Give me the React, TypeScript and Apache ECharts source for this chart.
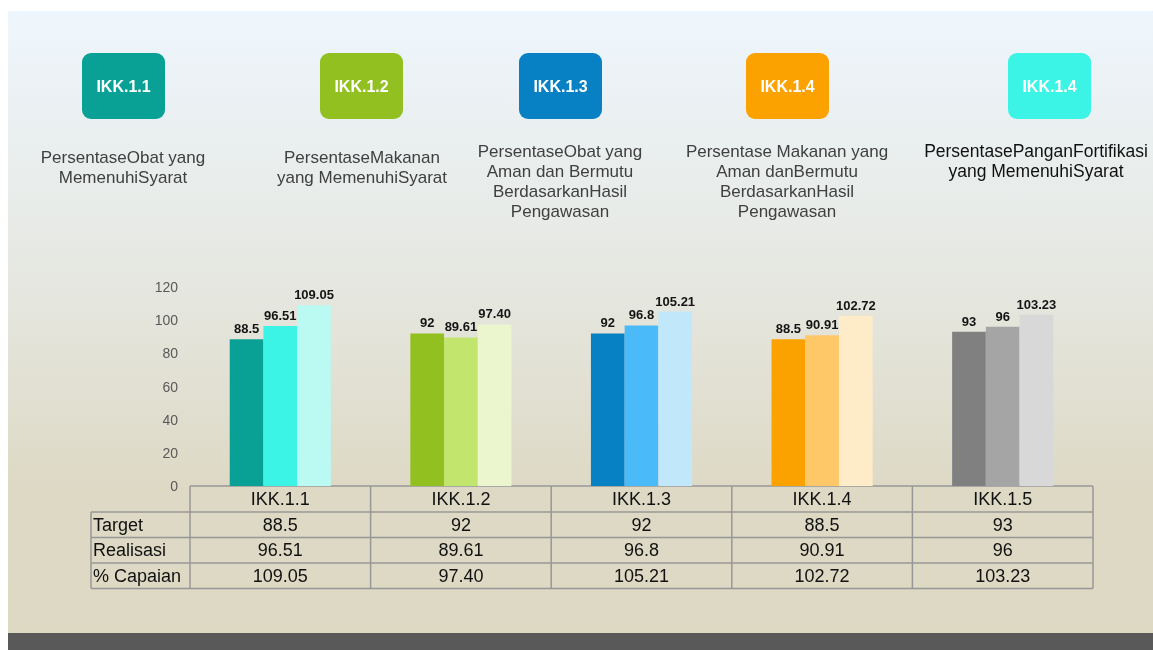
import React, { useEffect, useRef } from "react";
import * as echarts from "echarts";

// ---- data ----
const categories = ["IKK.1.1", "IKK.1.2", "IKK.1.3", "IKK.1.4", "IKK.1.5"];
const target = [88.5, 92, 92, 88.5, 93];
const realisasi = [96.51, 89.61, 96.8, 90.91, 96];
const capaian = [109.05, 97.4, 105.21, 102.72, 103.23];
const rowLabels = ["Target", "Realisasi", "% Capaian"];
const yMin = 0;
const yMax = 120;
const yStep = 20;
const boxLabels = ["IKK.1.1", "IKK.1.2", "IKK.1.3", "IKK.1.4", "IKK.1.4"];
const descriptions = [
  ["PersentaseObat yang", "MemenuhiSyarat"],
  ["PersentaseMakanan", "yang MemenuhiSyarat"],
  ["PersentaseObat yang", "Aman dan Bermutu", "BerdasarkanHasil", "Pengawasan"],
  ["Persentase Makanan yang", "Aman danBermutu", "BerdasarkanHasil", "Pengawasan"],
  ["PersentasePanganFortifikasi", "yang MemenuhiSyarat"],
];

// ---- styles ----
const groupColors = [
  ["#09a196", "#3bf4e6", "#bbf9f3"],
  ["#92c020", "#c2e56d", "#ebf6cf"],
  ["#0780c4", "#4bbaf8", "#c1e7fa"],
  ["#fba200", "#fec767", "#feecc8"],
  ["#808080", "#a5a5a5", "#d8d8d8"],
];
const boxColors = ["#09a196", "#92c020", "#0780c4", "#fba200", "#3bf4e6"];
const boxX = [82, 320, 519, 746, 1008];
const descCenterX = [123, 362, 560, 787, 1036];
const descTopY = [157, 157, 151, 151, 151];
const descColors = ["#404040", "#404040", "#404040", "#404040", "#111111"];
const descSize = [17, 17, 17, 17, 17.5];

const W = 1153;
const H = 650;
const GRID_LEFT = 190;
const GRID_RIGHT_X = 1093;
const GRID_TOP = 287;
const GRID_BOTTOM_Y = 486;
const TABLE_LEFT = 91;
const ROW_Y = [486, 512, 537.5, 563, 588.5];
const BORDER = "#979797";
const FONT = "'Liberation Sans', Arial, sans-serif";

function fmtPlain(v: number) {
  return String(v);
}
function fmtPct(v: number) {
  return v.toFixed(2);
}

export default function App() {
  const ref = useRef<HTMLDivElement>(null);

  useEffect(() => {
    if (!ref.current) return;
    const chart = echarts.init(ref.current, undefined, { renderer: "svg" });
    const band = (GRID_RIGHT_X - GRID_LEFT) / categories.length;

    const graphics: any[] = [];
    // background
    graphics.push({
      type: "rect",
      z: -10,
      shape: { x: 0, y: 0, width: W, height: H },
      style: { fill: "#ffffff" },
    });
    graphics.push({
      type: "rect",
      z: -9,
      shape: { x: 8, y: 11, width: W - 8, height: H - 11 },
      style: {
        fill: {
          type: "linear",
          x: 0,
          y: 0,
          x2: 0,
          y2: 1,
          colorStops: [
            { offset: 0, color: "#eef6fd" },
            { offset: 0.4, color: "#e6e8e2" },
            { offset: 0.75, color: "#ddd9c5" },
            { offset: 1, color: "#ddd9c3" },
          ],
        },
      },
    });
    graphics.push({
      type: "rect",
      z: -8,
      shape: { x: 8, y: 633, width: W - 8, height: H - 633 },
      style: { fill: "#595959" },
    });

    // boxes
    boxLabels.forEach((lab, i) => {
      graphics.push({
        type: "rect",
        shape: { x: boxX[i], y: 53, width: 83, height: 66, r: 9 },
        style: { fill: boxColors[i] },
      });
      graphics.push({
        type: "text",
        x: boxX[i] + 41.5,
        y: 86,
        style: {
          text: lab,
          fill: "#ffffff",
          font: `bold 16px ${FONT}`,
          align: "center",
          verticalAlign: "middle",
        },
      });
    });

    // descriptions
    descriptions.forEach((lines, i) => {
      lines.forEach((ln, j) => {
        graphics.push({
          type: "text",
          x: descCenterX[i],
          y: descTopY[i] + j * 20.3,
          style: {
            text: ln,
            fill: descColors[i],
            font: `${descSize[i]}px ${FONT}`,
            align: "center",
            verticalAlign: "middle",
          },
        });
      });
    });

    // table lines
    const hline = (x1: number, x2: number, y: number) =>
      graphics.push({
        type: "line",
        shape: { x1, y1: y, x2, y2: y },
        style: { stroke: BORDER, lineWidth: 1.5 },
      });
    const vline = (x: number, y1: number, y2: number) =>
      graphics.push({
        type: "line",
        shape: { x1: x, y1, x2: x, y2 },
        style: { stroke: BORDER, lineWidth: 1.5 },
      });
    hline(GRID_LEFT, GRID_RIGHT_X, ROW_Y[0]);
    for (let r = 1; r < ROW_Y.length; r++) hline(TABLE_LEFT, GRID_RIGHT_X, ROW_Y[r]);
    vline(TABLE_LEFT, ROW_Y[1], ROW_Y[4]);
    for (let c = 0; c <= categories.length; c++) vline(GRID_LEFT + c * band, ROW_Y[0], ROW_Y[4]);

    const cellText = (text: string, x: number, y: number, align: string) =>
      graphics.push({
        type: "text",
        x,
        y,
        style: {
          text,
          fill: "#111111",
          font: `18px ${FONT}`,
          align,
          verticalAlign: "middle",
        },
      });

    const rows = [target.map(fmtPlain), realisasi.map(fmtPlain), capaian.map(fmtPct)];
    categories.forEach((c, i) => {
      const cx = GRID_LEFT + (i + 0.5) * band;
      cellText(c, cx, (ROW_Y[0] + ROW_Y[1]) / 2, "center");
      rows.forEach((row, r) => {
        cellText(row[i], cx, (ROW_Y[r + 1] + ROW_Y[r + 2]) / 2, "center");
      });
    });
    rowLabels.forEach((l, r) => {
      cellText(l, TABLE_LEFT + 2, (ROW_Y[r + 1] + ROW_Y[r + 2]) / 2, "left");
    });

    const mkSeries = (name: string, vals: number[], shade: number, fmt: (v: number) => string) => ({
      name,
      type: "bar",
      barGap: "0%",
      barCategoryGap: "44%",
      data: vals.map((v, i) => ({ value: v, itemStyle: { color: groupColors[i][shade] } })),
      label: {
        show: true,
        position: "top",
        distance: 4,
        color: "#141414",
        fontWeight: "bold",
        fontSize: 13,
        fontFamily: "'Liberation Sans Narrow', 'Liberation Sans', Arial, sans-serif",
        formatter: (p: any) => fmt(p.value),
      },
    });

    chart.setOption({
      animation: false,
      grid: {
        left: GRID_LEFT,
        right: W - GRID_RIGHT_X,
        top: GRID_TOP,
        bottom: H - GRID_BOTTOM_Y,
        containLabel: false,
      },
      xAxis: {
        type: "category",
        data: categories,
        axisLine: { show: false },
        axisTick: { show: false },
        axisLabel: { show: false },
      },
      yAxis: {
        type: "value",
        min: yMin,
        max: yMax,
        interval: yStep,
        axisLine: { show: false },
        axisTick: { show: false },
        splitLine: { show: false },
        axisLabel: { color: "#595959", fontSize: 14, fontFamily: FONT, margin: 12 },
      },
      graphic: { elements: graphics },
      series: [
        mkSeries("Target", target, 0, fmtPlain),
        mkSeries("Realisasi", realisasi, 1, fmtPlain),
        mkSeries("% Capaian", capaian, 2, fmtPct),
      ],
    });

    return () => chart.dispose();
  }, []);

  return (
    <div
      ref={ref}
      style={{ position: "fixed", left: 0, top: 0, width: W, height: H }}
    />
  );
}
